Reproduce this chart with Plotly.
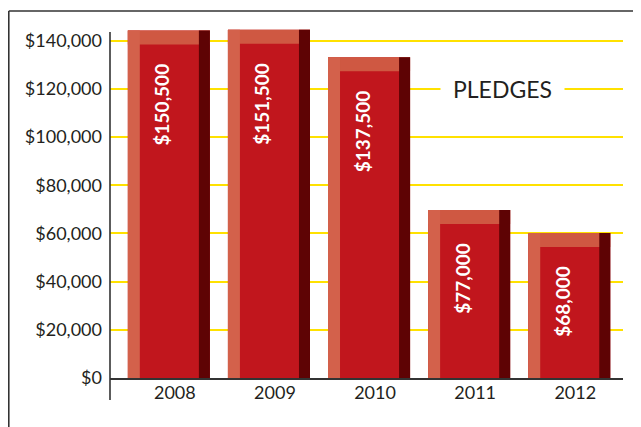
import plotly.graph_objects as go

years = ["2008", "2009", "2010", "2011", "2012"]
bar_heights = [144200, 144500, 133100, 69700, 60200]
bar_labels = ["&#36;150,500", "&#36;151,500", "&#36;137,500", "&#36;77,000", "&#36;68,000"]
y_ticks = [0, 20000, 40000, 60000, 80000, 100000, 120000, 140000]
y_tick_labels = ["&#36;0", "&#36;20,000", "&#36;40,000", "&#36;60,000", "&#36;80,000",
                 "&#36;100,000", "&#36;120,000", "&#36;140,000"]
title_text = "PLEDGES"

cap = 5800  # depth of the bevelled top face in value units

FACE = "#C1161D"
CAP = "#CF5842"
LEFT = "#D3614B"
RIGHT = "#5E0304"

fig = go.Figure()
fig.add_trace(go.Bar(x=years, y=bar_heights, width=0.82, marker=dict(color=FACE, line=dict(width=0)),
                     hoverinfo="skip", showlegend=False))
fig.add_trace(go.Bar(x=years, y=[cap] * len(years), base=[v - cap for v in bar_heights], width=0.82,
                     marker=dict(color=CAP, line=dict(width=0)), hoverinfo="skip", showlegend=False))
fig.add_trace(go.Bar(x=years, y=bar_heights, width=0.12, offset=-0.41,
                     marker=dict(color=LEFT, line=dict(width=0)), hoverinfo="skip", showlegend=False))
fig.add_trace(go.Bar(x=years, y=bar_heights, width=0.11, offset=0.30,
                     marker=dict(color=RIGHT, line=dict(width=0)), hoverinfo="skip", showlegend=False))

annotations = []
for i, (v, lab) in enumerate(zip(bar_heights, bar_labels)):
    annotations.append(dict(x=i, y=v, xref="x", yref="y", text=lab, showarrow=False, textangle=-90,
                            xanchor="center", yanchor="top", yshift=-31, xshift=-7,
                            font=dict(family="Lato", size=19, color="white", weight="bold")))
annotations.append(dict(x=0.766, y=120000, xref="paper", yref="y", text=title_text, showarrow=False,
                        xanchor="center", yanchor="middle", bgcolor="white", borderpad=12,
                        font=dict(family="Lato", size=23, color="#231F20")))

fig.update_layout(
    width=633, height=419,
    margin=dict(l=102, r=18, t=18, b=49, pad=0),
    paper_bgcolor="white", plot_bgcolor="white",
    barmode="overlay", bargap=0.18,
    showlegend=False,
    font=dict(family="Lato", color="#231F20"),
    annotations=annotations,
    shapes=[
        # outer frame
        dict(type="line", xref="paper", yref="paper", x0=-0.1973, x1=1.04, y0=1.0426, y1=1.0426,
             line=dict(color="#333333", width=1.6)),
        dict(type="line", xref="paper", yref="paper", x0=-0.1973, x1=-0.1973, y0=1.0426, y1=-0.15,
             line=dict(color="#333333", width=1.6)),
        # vertical axis line (extends a little below the baseline)
        dict(type="line", xref="paper", yref="paper", x0=0, x1=0, y0=-0.0625, y1=0.983,
             line=dict(color="#333333", width=1.6)),
    ],
)
fig.update_xaxes(type="category", range=[-0.588, 4.537], showline=True, linecolor="#333333",
                 linewidth=1.6, showgrid=False, ticks="", automargin=False,
                 tickfont=dict(family="Lato", size=18, color="#231F20"),
                 ticklabelstandoff=-2, ticklabelshift=6)
fig.update_yaxes(range=[0, 146100], tickvals=y_ticks, ticktext=y_tick_labels,
                 showgrid=True, gridcolor="#FFE100", gridwidth=1.6,
                 zeroline=False, showline=False, ticks="", automargin=False,
                 tickfont=dict(family="Lato", size=18, color="#231F20"), ticklabelstandoff=7)

fig.write_html("out.html")
